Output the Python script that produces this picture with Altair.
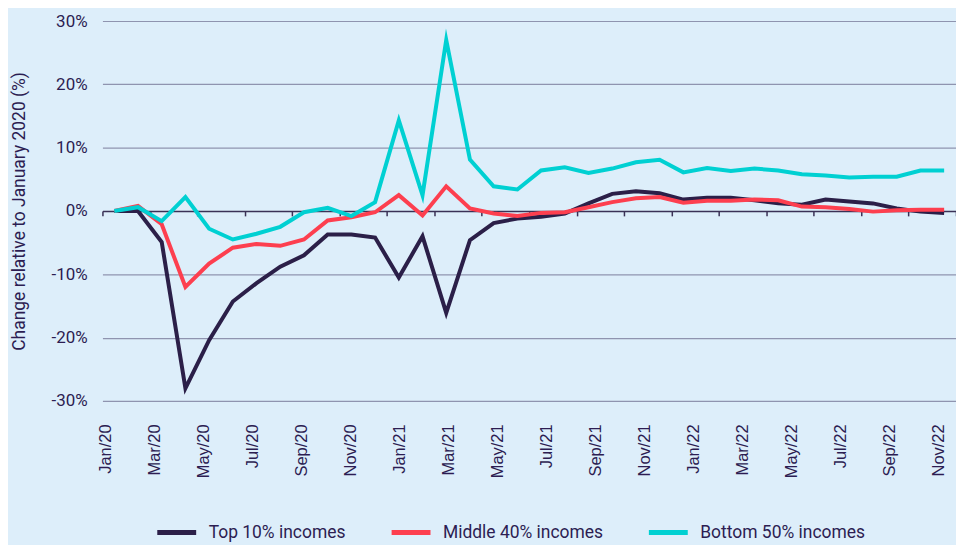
import json
import altair as alt
import pandas as pd

# ---- data ----
months = [f"{m}/{y}" for y in ("20", "21", "22")
          for m in ("Jan", "Feb", "Mar", "Apr", "May", "Jun",
                    "Jul", "Aug", "Sep", "Oct", "Nov", "Dec")]
tick_labels = ["Jan/20", "Mar/20", "May/20", "Jul/20", "Sep/20", "Nov/20",
               "Jan/21", "Mar/21", "May/21", "Jul/21", "Sep/21", "Nov/21",
               "Jan/22", "Mar/22", "May/22", "Jul/22", "Sep/22", "Nov/22"]
series_names = ["Top 10% incomes", "Middle 40% incomes", "Bottom 50% incomes"]
series_colors = ["#2b1f48", "#fd3f4f", "#00d0d2"]

top10 = [0, 0, -4.9, -28.0, -20.4, -14.3, -11.4, -8.8, -7.0, -3.7,
         -3.7, -4.2, -10.5, -4.0, -16.1, -4.6, -1.9, -1.2, -0.9, -0.4,
         1.2, 2.7, 3.1, 2.8, 1.8, 2.1, 2.1, 1.7, 1.2, 1.0,
         1.8, 1.5, 1.2, 0.4, -0.1, -0.3]
middle40 = [0, 0.8, -2.1, -12.0, -8.3, -5.8, -5.2, -5.5, -4.5, -1.5,
            -1.0, -0.2, 2.5, -0.7, 3.9, 0.4, -0.4, -0.8, -0.3, -0.2,
            0.6, 1.4, 2.0, 2.2, 1.3, 1.6, 1.6, 1.8, 1.7, 0.7,
            0.6, 0.3, -0.1, 0.1, 0.2, 0.2]
bottom50 = [0, 0.6, -1.6, 2.2, -2.8, -4.5, -3.6, -2.5, -0.2, 0.5,
            -0.8, 1.4, 14.3, 2.5, 27.0, 8.1, 3.9, 3.4, 6.4, 6.9,
            6.0, 6.7, 7.7, 8.1, 6.1, 6.8, 6.3, 6.7, 6.4, 5.8,
            5.6, 5.3, 5.4, 5.4, 6.4, 6.4]
y_ticks = [-30, -20, -10, 0, 10, 20, 30]

# ---- styling ----
BG = "#ddeefa"
TXT = "#2c1d52"
DARK = "#3a3156"
GRID = "#8f94af"

rows = []
for name, vals in zip(series_names, [top10, middle40, bottom50]):
    for i, v in enumerate(vals):
        rows.append({"series": name, "month": months[i], "m": i, "v": v})
df = pd.DataFrame(rows)

n = len(months)
boundary_ticks = [i - 0.5 for i in range(0, n + 1, 2)]
label_pos = list(range(0, 2 * len(tick_labels), 2))

lines = alt.Chart(df).mark_line(
    strokeWidth=4, strokeJoin="miter", strokeMiterLimit=10
).encode(
    x=alt.X("m:Q",
            scale=alt.Scale(domain=[-0.5, n - 0.5], nice=False, zero=False),
            axis=alt.Axis(orient="bottom", offset=-190.6, labels=False,
                          values=boundary_ticks, domainColor=DARK,
                          domainWidth=1.5, tickColor=DARK, tickSize=5,
                          tickWidth=1.5, grid=False, title=None)),
    y=alt.Y("v:Q",
            scale=alt.Scale(domain=[-30, 30], nice=False),
            axis=alt.Axis(values=y_ticks, labelExpr="datum.value + '%'",
                          domain=False, ticks=False, labelPadding=15.4,
                          labelFont="Roboto", labelFontSize=17,
                          labelColor=TXT, grid=True,
                          gridColor={"condition": {"test": "datum.value === 0",
                                                   "value": "transparent"},
                                     "value": GRID},
                          gridWidth=1.2,
                          title="Change relative to January 2020 (%)",
                          titleFont="Roboto", titleFontSize=17.5,
                          titleFontWeight="normal", titleColor=TXT,
                          titleX=-82.7, titleY=190.5, titleAngle=270,
                          titleAlign="center", titleBaseline="middle")),
    color=alt.Color("series:N",
                    scale=alt.Scale(domain=series_names, range=series_colors),
                    legend=alt.Legend(orient="none", legendX=52.5, legendY=491,
                                      direction="horizontal", title=None,
                                      symbolType="stroke", symbolSize=1521,
                                      symbolStrokeWidth=5, labelFont="Roboto",
                                      labelFontSize=17.5, labelColor=TXT,
                                      labelOffset=10, columnPadding=35,
                                      padding=0, labelLimit=300)),
)

lab_df = pd.DataFrame({"pos": label_pos, "lab": tick_labels})
label_layer = alt.Chart(lab_df).mark_point(opacity=0).encode(
    x=alt.X("pos:Q",
            scale=alt.Scale(domain=[-0.1344, 34.733], nice=False, zero=False),
            axis=alt.Axis(orient="bottom", values=label_pos,
                          labelExpr=f"{json.dumps(tick_labels)}[round(datum.value / 2)]",
                          labelAngle=270, labelFont="Liberation Sans",
                          labelFontSize=16.5, labelColor=TXT, labelPadding=23,
                          domain=False, ticks=False, grid=False, title=None,
                          labelOverlap=False, labelFlush=False,
                          labelBound=False)),
)

chart = alt.layer(lines, label_layer).resolve_scale(x="independent").properties(
    width=856, height=381,
    autosize=alt.AutoSizeParams(type="none"),
    padding={"left": 94.7, "top": 12.3, "right": 0, "bottom": 144},
    background=BG,
).configure_view(stroke=None)

chart.save("out.html", embed_options={"renderer": "svg", "actions": False})
